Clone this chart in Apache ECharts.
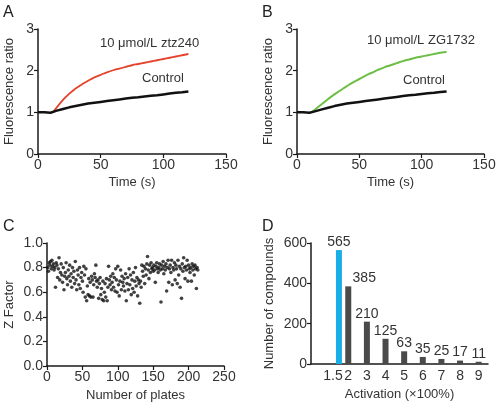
<!DOCTYPE html>
<html><head><meta charset="utf-8">
<script src="https://cdn.jsdelivr.net/npm/echarts@6/dist/echarts.min.js"></script>
<style>html,body{margin:0;padding:0;background:#fff}#c{width:500px;height:405px}</style>
</head><body><div id="c"></div>
<script>
// Panel A / B: time courses
const ctrlTime = [0,5,10,15,20,25,30,35,40,45,50,55,60,65,70,75,80,85,90,95,100,105,110,115,120];
const controlA = [1.00,1.00,0.99,1.04,1.08,1.12,1.15,1.18,1.21,1.23,1.25,1.27,1.29,1.31,1.33,1.35,1.36,1.38,1.40,1.41,1.43,1.45,1.47,1.48,1.50];
const controlB = [1.00,1.00,0.99,1.03,1.07,1.11,1.15,1.18,1.21,1.23,1.25,1.27,1.29,1.31,1.33,1.35,1.37,1.39,1.41,1.42,1.44,1.46,1.47,1.49,1.50];
const drugTime = [12,15,20,25,30,35,40,45,50,55,60,65,70,75,80,85,90,95,100,105,110,115,120];
const ztz240 = [1.00,1.12,1.30,1.45,1.57,1.67,1.76,1.84,1.90,1.96,2.01,2.05,2.09,2.13,2.16,2.19,2.22,2.25,2.28,2.31,2.34,2.37,2.40];
const zg1732 = [1.00,1.08,1.20,1.32,1.43,1.53,1.63,1.72,1.80,1.88,1.95,2.02,2.08,2.13,2.18,2.23,2.27,2.31,2.34,2.37,2.40,2.43,2.45];

// Panel C: Z factor per plate (plates 1..213)
const zFactor = [
0.80,0.77,0.84,0.82,0.85,0.79,0.86,0.81,0.83,0.78,
0.80,0.64,0.84,0.82,0.72,0.79,0.88,0.70,0.76,0.83,
0.74,0.68,0.80,0.62,0.73,0.76,0.84,0.71,0.66,0.78,
0.73,0.82,0.69,0.75,0.64,0.80,0.72,0.77,0.67,0.85,
0.70,0.62,0.78,0.74,0.66,0.80,0.63,0.72,0.76,0.69,
0.60,0.81,0.74,0.56,0.79,0.53,0.65,0.58,0.71,0.57,
0.68,0.56,0.73,0.70,0.56,0.66,0.75,0.72,0.82,0.69,
0.64,0.70,0.55,0.67,0.72,0.58,0.63,0.54,0.69,0.53,
0.60,0.67,0.56,0.71,0.53,0.64,0.81,0.70,0.66,0.73,
0.62,0.68,0.75,0.64,0.72,0.61,0.79,0.70,0.60,0.81,
0.66,0.57,0.69,0.78,0.62,0.73,0.68,0.65,0.71,0.61,
0.75,0.53,0.67,0.72,0.62,0.79,0.66,0.74,0.58,0.70,
0.63,0.76,0.60,0.69,0.80,0.65,0.72,0.57,0.70,0.67,
0.51,0.69,0.64,0.82,0.77,0.73,0.81,0.67,0.79,0.74,
0.83,0.89,0.78,0.71,0.82,0.76,0.84,0.79,0.80,0.77,
0.82,0.78,0.68,0.81,0.84,0.79,0.76,0.80,0.83,0.78,
0.52,0.82,0.79,0.85,0.75,0.81,0.78,0.83,0.61,0.80,
0.86,0.68,0.79,0.82,0.76,0.86,0.66,0.80,0.78,0.84,
0.70,0.82,0.79,0.67,0.86,0.74,0.81,0.64,0.79,0.55,
0.83,0.77,0.88,0.80,0.71,0.81,0.78,0.86,0.69,0.82,
0.79,0.76,0.80,0.69,0.83,0.78,0.81,0.74,0.82,0.79,
0.63,0.80,0.78];

// Panel D: activation histogram
const activation = [1.5,2,3,4,5,6,7,8,9];
const compounds = [565,385,210,125,63,35,25,17,11];

const FONT = 'Liberation Sans, Arial, sans-serif';
const TXT = '#333';
const AX = '#1a1a1a';

function pairs(xs, ys){ return xs.map((x,i)=>[x, ys[i]]); }

function valAxis(gi, min, max, interval, name, gap, extra){
  return Object.assign({
    type:'value', gridIndex:gi, min, max, interval,
    name, nameLocation:'middle', nameGap:gap,
    nameTextStyle:{fontFamily:FONT, fontSize:13, color:TXT},
    axisLine:{show:true, onZero:false, lineStyle:{color:AX, width:1.5}},
    axisTick:{show:true, length:4, lineStyle:{color:AX, width:1.2}},
    axisLabel:{fontFamily:FONT, fontSize:14, color:TXT, margin:4},
    splitLine:{show:false}
  }, extra||{});
}

const chart = echarts.init(document.getElementById('c'), null, {renderer:'canvas'});
chart.setOption({
  animation:false,
  backgroundColor:'#fff',
  grid:[
    {left:38, top:29, width:188, height:125},
    {left:297, top:29, width:187, height:125},
    {left:47, top:243, width:177, height:123},
    {left:311, top:243, width:177, height:121}
  ],
  xAxis:[
    valAxis(0,0,150,50,'Time (s)',22),
    valAxis(1,0,150,50,'Time (s)',22),
    valAxis(2,0,250,50,'Number of plates',23),
    valAxis(3,0,9.5,0.5,'Activation (×100%)',24,{
      axisTick:{show:false},
      axisLabel:{fontFamily:FONT, fontSize:14, color:TXT, margin:5,
        customValues:activation,
        formatter:function(v){ return v===1.5 ? '{a|1.5}' : String(v); },
        rich:{a:{fontFamily:FONT, fontSize:14, color:TXT, padding:[0,12,0,0]}}}
    })
  ],
  yAxis:[
    valAxis(0,0,3,1,'Fluorescence ratio',22),
    valAxis(1,0,3,1,'Fluorescence ratio',22),
    valAxis(2,0,1,0.2,'Z Factor',31,{axisLabel:{fontFamily:FONT, fontSize:14, color:TXT, margin:4, formatter:v=>v.toFixed(1)}}),
    valAxis(3,0,600,200,'Number of compounds',35)
  ],
  series:[
    {type:'line', xAxisIndex:0, yAxisIndex:0, data:pairs(ctrlTime,controlA), showSymbol:false, lineStyle:{color:'#111', width:2.5}, z:3},
    {type:'line', xAxisIndex:0, yAxisIndex:0, data:pairs(drugTime,ztz240), showSymbol:false, smooth:true, lineStyle:{color:'#e5432c', width:1.8}, z:2},
    {type:'line', xAxisIndex:1, yAxisIndex:1, data:pairs(ctrlTime,controlB), showSymbol:false, lineStyle:{color:'#111', width:2.5}, z:3},
    {type:'line', xAxisIndex:1, yAxisIndex:1, data:pairs(drugTime,zg1732), showSymbol:false, smooth:true, lineStyle:{color:'#6cbf45', width:2}, z:2},
    {type:'scatter', xAxisIndex:2, yAxisIndex:2, data:zFactor.map((v,i)=>[i+1,v]), symbol:'circle', symbolSize:3.6, itemStyle:{color:'#111'}},
    {type:'bar', xAxisIndex:3, yAxisIndex:3, barWidth:6,
      data:activation.map((a,i)=>{
        const d={value:[a,compounds[i]]};
        if(i===0) d.itemStyle={color:'#1aaee8'};
        if(i===1) d.label={offset:[16,0]};
        return d;
      }),
      itemStyle:{color:'#4a4a4a'},
      label:{show:true, position:'top', distance:1, fontFamily:FONT, fontSize:14, color:TXT,
        formatter:p=>String(p.value[1])}}
  ],
  graphic:[
    {type:'text', left:3, top:5, style:{text:'A', font:'16px '+FONT, fill:'#222'}},
    {type:'text', left:262, top:5, style:{text:'B', font:'16px '+FONT, fill:'#222'}},
    {type:'text', left:3, top:219, style:{text:'C', font:'16px '+FONT, fill:'#222'}},
    {type:'text', left:262, top:219, style:{text:'D', font:'16px '+FONT, fill:'#222'}},
    {type:'text', left:100, top:37, style:{text:'10 μmol/L ztz240', font:'13px '+FONT, fill:TXT}},
    {type:'text', left:142, top:72, style:{text:'Control', font:'13px '+FONT, fill:TXT}},
    {type:'text', left:367, top:34, style:{text:'10 μmol/L ZG1732', font:'13px '+FONT, fill:TXT}},
    {type:'text', left:403, top:74, style:{text:'Control', font:'13px '+FONT, fill:TXT}}
  ]
});
</script></body></html>
